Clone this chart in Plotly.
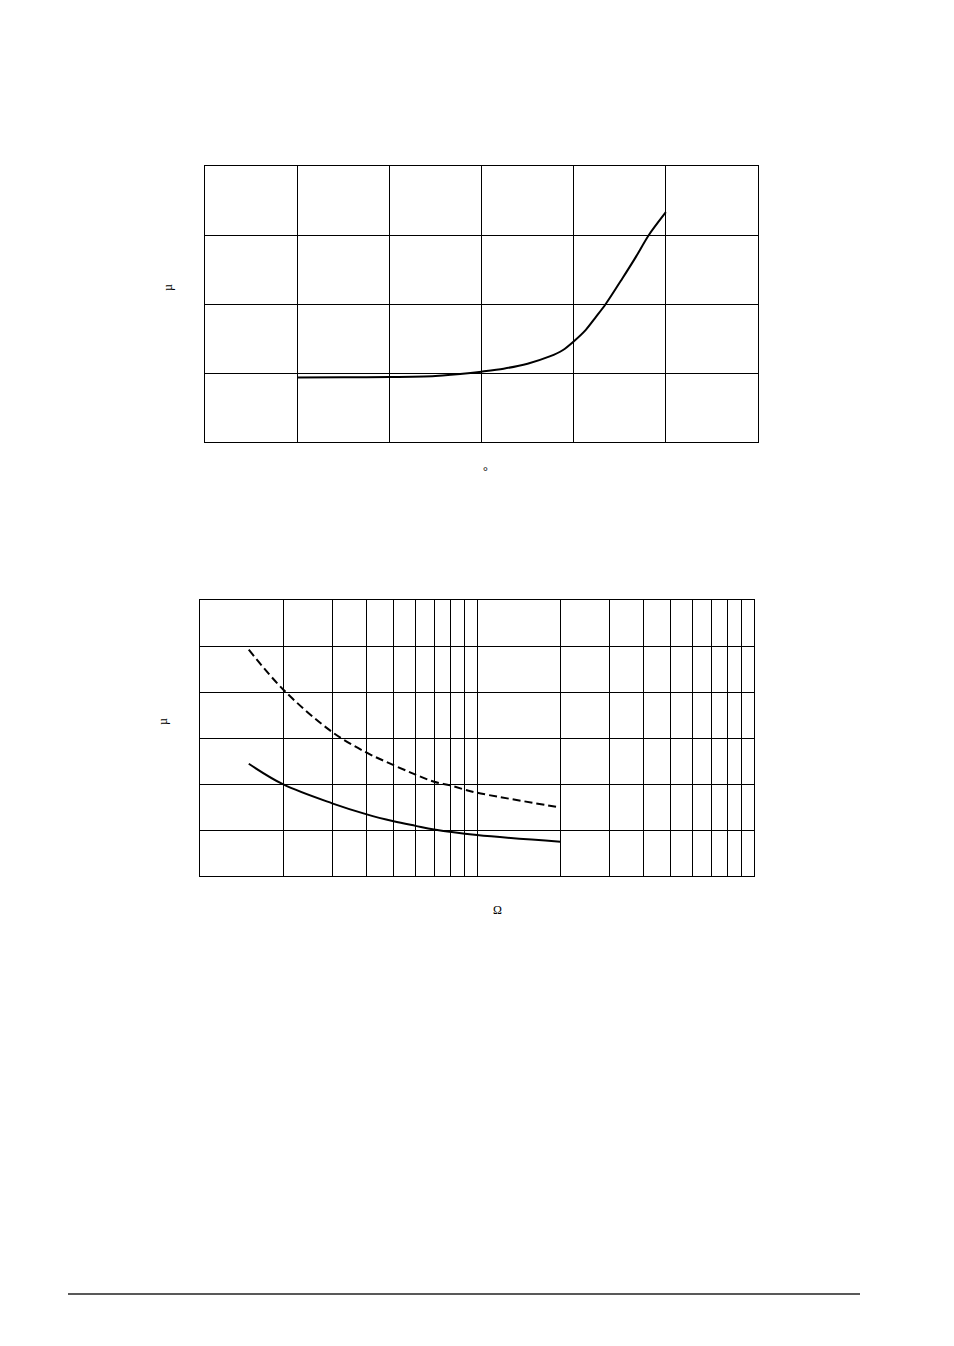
import plotly.graph_objects as go

W, H = 954, 1346
PAGE_OFFSET = 8  # default body margin of the html page

# top chart: curve vs temperature-like axis (labels not legible in source)
temp_x = [0, 12.5, 25, 37.5, 47, 50, 56, 62.5, 68.5, 72, 75, 78.3, 81, 83.7,
          88.2, 91.8, 95.4, 100]
temp_y = [0.935, 0.938, 0.942, 0.958, 1.0, 1.019, 1.063, 1.135, 1.24, 1.33,
          1.458, 1.626, 1.81, 2.0, 2.37, 2.676, 3.0, 3.33]

# bottom chart: two curves vs resistance (log axis)
res_x = [1.5, 2, 3, 4, 5, 6, 7, 8, 9, 10, 20]
dashed_y = [4.92, 4.05, 3.13, 2.68, 2.41, 2.205, 2.05, 1.97, 1.88, 1.81, 1.49]
solid_x = [1.5, 2, 3, 4, 5, 6, 7, 10, 20]
solid_y = [2.44, 1.99, 1.58, 1.34, 1.19, 1.09, 1.01, 0.89, 0.745]


def px_x(p):
    return (p - PAGE_OFFSET) / W


def px_y(p):
    return 1 - (p - PAGE_OFFSET) / H


fig = go.Figure()

fig.add_trace(go.Scatter(x=temp_x, y=temp_y, mode='lines', line_shape='spline',
                         line=dict(color='black', width=2, smoothing=0.8),
                         xaxis='x', yaxis='y', showlegend=False))
fig.add_trace(go.Scatter(x=res_x, y=dashed_y, mode='lines', line_shape='spline',
                         line=dict(color='black', width=2, dash='8px,4px'),
                         xaxis='x2', yaxis='y2', showlegend=False))
fig.add_trace(go.Scatter(x=solid_x, y=solid_y, mode='lines', line_shape='spline',
                         line=dict(color='black', width=2),
                         xaxis='x2', yaxis='y2', showlegend=False))

axis_style = dict(showline=True, mirror=True, linecolor='black', linewidth=1.3,
                  showgrid=True, gridcolor='black', gridwidth=1.3,
                  zeroline=False, showticklabels=False, ticks='')

fig.update_layout(
    width=W, height=H,
    paper_bgcolor='white', plot_bgcolor='white',
    margin=dict(l=0, r=0, t=0, b=0),
    xaxis=dict(domain=[px_x(205), px_x(758)], range=[-25, 125], dtick=25,
               anchor='y', **axis_style),
    yaxis=dict(domain=[px_y(442), px_y(166)], range=[0, 4], dtick=1,
               anchor='x', **axis_style),
    xaxis2=dict(domain=[px_x(200), px_x(754)], type='log', range=[0, 2],
                dtick='D1', anchor='y2', **axis_style),
    yaxis2=dict(domain=[px_y(876), px_y(600)], range=[0, 6], dtick=1,
                anchor='x2', **axis_style),
    shapes=[dict(type='line', xref='paper', yref='paper',
                 x0=px_x(68), x1=px_x(860), y0=px_y(1294), y1=px_y(1294),
                 line=dict(color='#222', width=1.3))],
)

txt_font = dict(family='Liberation Serif', size=12, color='black')
labels = [('µ', 168, 288, -90), ('°', 485, 471, 0),
          ('µ', 163, 722, -90), ('Ω', 498, 910, 0)]
for text, x, y, ang in labels:
    fig.add_annotation(text=text, x=px_x(x), y=px_y(y), xref='paper', yref='paper',
                       xanchor='center', yanchor='middle',
                       showarrow=False, textangle=ang, font=txt_font)

fig.write_html("out.html")
